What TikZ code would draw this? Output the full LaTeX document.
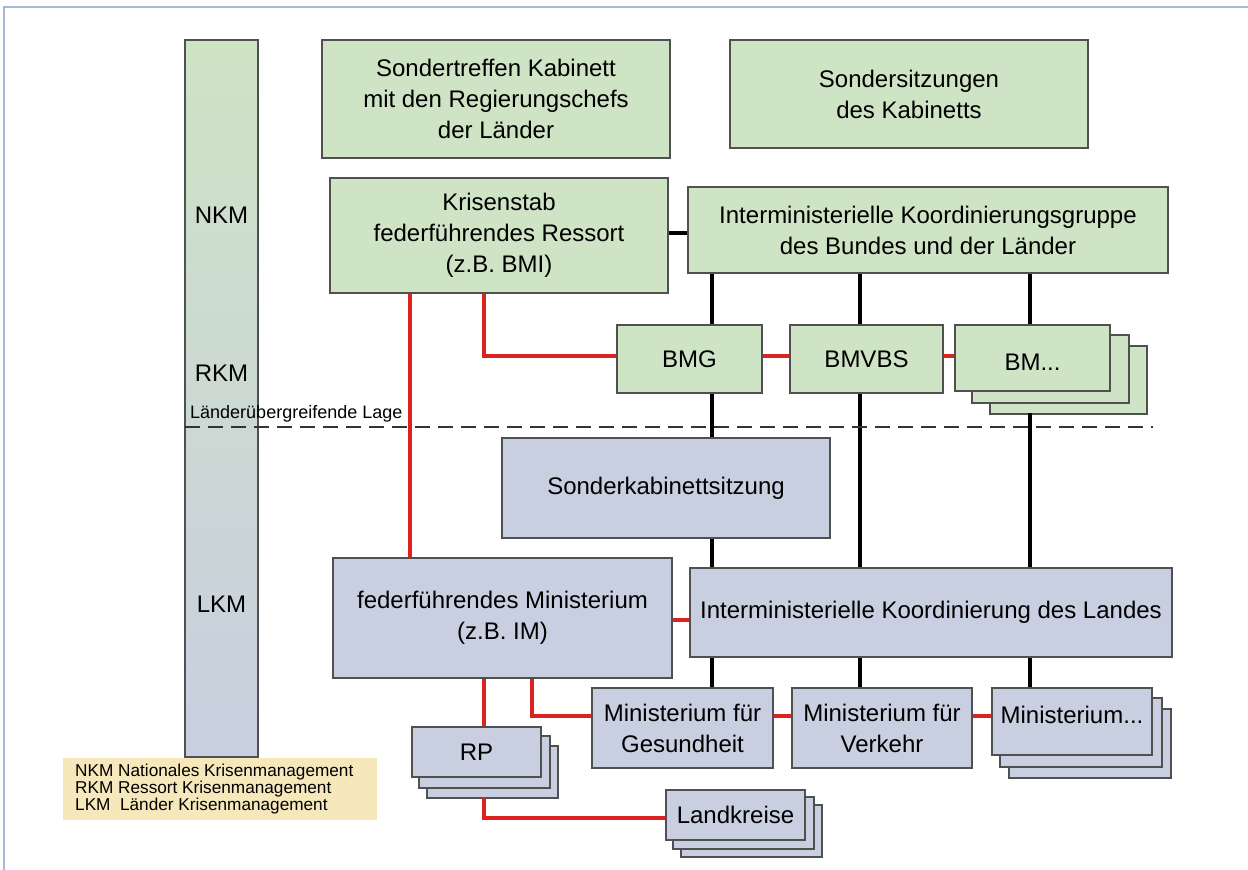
\documentclass[tikz,border=0pt]{standalone}
\usepackage{fontspec}
\setmainfont{Liberation Sans}
\usetikzlibrary{calc,backgrounds}
\definecolor{gfill}{HTML}{CFE3C5}
\definecolor{bfill}{HTML}{C8CFE0}
\definecolor{bord}{HTML}{505050}
\definecolor{redl}{HTML}{DD2222}
\definecolor{legf}{HTML}{F7E8BB}
\definecolor{framec}{HTML}{A8B8D8}
\tikzset{
  box/.style={draw=bord, line width=1.8pt, align=center, inner sep=2pt,
    font=\fontsize{24}{31}\selectfont},
  gbox/.style={box, fill=gfill},
  bbox/.style={box, fill=bfill},
  redc/.style={draw=redl, line width=3.4pt},
  blkc/.style={draw=black, line width=3.4pt},
  lbl/.style={font=\fontsize{24}{28}\selectfont, inner sep=0pt}
}
\newcommand\stackback[4]{% name, fill, dx, dy
  \begin{pgfonlayer}{background}
  \draw[draw=bord, line width=1.8pt, fill=#2] ($(#1.north west)+(2*#3,2*#4)$) rectangle ($(#1.south east)+(2*#3,2*#4)$);
  \draw[draw=bord, line width=1.8pt, fill=#2] ($(#1.north west)+(#3,#4)$) rectangle ($(#1.south east)+(#3,#4)$);
  \end{pgfonlayer}}
\begin{document}
\begin{tikzpicture}[x=1pt,y=-1pt]
\useasboundingbox (0,0) rectangle (1248,870);
\draw[framec, line width=1.8pt] (4,870) -- (4,7) -- (1248,7);

% level bar
\node[draw=bord, line width=1.8pt, top color=gfill, bottom color=bfill, minimum width=73pt, minimum height=717pt, inner sep=0pt] (bar) at (221.5,398.5) {};
\node[lbl] (nkm) at (221.5,215) {NKM};
\node[lbl] (rkm) at (221.5,373) {RKM};
\node[lbl] (lkm) at (221.5,604) {LKM};

% green boxes
\node[gbox, minimum width=348pt, minimum height=118pt] (s1) at (496,99) {Sondertreffen Kabinett\\mit den Regierungschefs\\der Länder};
\node[gbox, minimum width=358pt, minimum height=108pt] (s2) at (909,94) {Sondersitzungen\\des Kabinetts};
\node[gbox, minimum width=338pt, minimum height=115pt] (ks) at (499,235.5) {Krisenstab\\federführendes Ressort\\(z.B. BMI)};
\node[gbox, minimum width=480pt, minimum height=86pt] (ikg) at (928,230) {Interministerielle Koordinierungsgruppe\\des Bundes und der Länder};
\node[gbox, minimum width=145pt, minimum height=68pt] (bmg) at (689.5,359) {BMG};
\node[gbox, minimum width=153pt, minimum height=68pt] (bmvbs) at (866.5,359) {BMVBS};
\node[gbox, minimum width=155pt, minimum height=66pt] (bmx) at (1032.5,358) {};
\node[lbl] (bmxt) at (1032.5,362) {BM...};
\stackback{bmx}{gfill}{18}{11}

% blue boxes
\node[bbox, minimum width=328pt, minimum height=100pt] (sk) at (666,488) {Sonderkabinettsitzung};
\node[bbox, minimum width=339pt, minimum height=120pt] (fm) at (502.5,618) {federführendes Ministerium\\(z.B. IM)};
\node[bbox, minimum width=482pt, minimum height=89pt, inner sep=0pt] (ikl) at (931,612.5) {Interministerielle Koordinierung des Landes};
\node[bbox, minimum width=181pt, minimum height=80pt, inner sep=0pt] (mfg) at (682.5,728) {Ministerium für\\Gesundheit};
\node[bbox, minimum width=180pt, minimum height=80pt, inner sep=0pt] (mfv) at (882,728) {Ministerium für\\Verkehr};
\node[bbox, minimum width=160pt, minimum height=67pt, inner sep=0pt] (mx) at (1072,721.5) {};
\node[lbl] (mxt) at (1072,715) {Ministerium...};
\stackback{mx}{bfill}{9}{11}
\node[bbox, minimum width=129pt, minimum height=50pt] (rp) at (476.5,752) {RP};
\stackback{rp}{bfill}{8}{10}
\node[bbox, minimum width=139pt, minimum height=50pt] (lk) at (735.5,815) {Landkreise};
\stackback{lk}{bfill}{8}{8}

% dashed separator
\coordinate (dL) at (185,427);
\coordinate (dR) at (1153,427);
\draw[black!80, line width=2.8pt, dash pattern=on 15pt off 8pt] (dL) -- (dR);
\node[font=\fontsize{18}{20}\selectfont, anchor=base west, inner sep=0pt] (lage) at (190,418) {Länderübergreifende Lage};

% legend
\node[fill=legf, minimum width=314pt, minimum height=62pt, inner sep=0pt] (leg) at (220,789) {};
\node[font=\fontsize{17.2}{17}\selectfont, align=left, anchor=west, inner sep=0pt] (legt) at (75,789) {NKM Nationales Krisenmanagement\\RKM Ressort Krisenmanagement\\LKM\ \ Länder Krisenmanagement};

% connectors
\begin{pgfonlayer}{background}
\draw[blkc] (ks.east |- 0,233) -- (ikg.west |- 0,233);
\foreach \xx in {712,860,1030}{
  \draw[blkc] (\xx,0 |- ikg.south) -- (\xx,0 |- bmg.north);
  \draw[blkc] (\xx,0 |- ikl.south) -- (\xx,0 |- mfg.north);
}
\draw[blkc] (712,0 |- bmg.south) -- (712,0 |- sk.north);
\draw[blkc] (712,0 |- sk.south) -- (712,0 |- ikl.north);
\draw[blkc] (860,0 |- bmvbs.south) -- (860,0 |- ikl.north);
\draw[blkc] (1030,413) -- (1030,0 |- ikl.north);

\draw[redc] (410,0 |- ks.south) -- (410,0 |- fm.north);
\draw[redc] (484,0 |- ks.south) -- (484,356) -- (bmg.west |- 0,356);
\draw[redc] (bmg.east |- 0,356) -- (bmvbs.west |- 0,356);
\draw[redc] (bmvbs.east |- 0,356) -- (bmx.west |- 0,356);
\draw[redc] (fm.east |- 0,620) -- (ikl.west |- 0,620);
\draw[redc] (484,0 |- fm.south) -- (rp.north -| 484,0);
\draw[redc] (532,0 |- fm.south) -- (532,716) -- (mfg.west |- 0,716);
\draw[redc] (mfg.east |- 0,716) -- (mfv.west |- 0,716);
\draw[redc] (mfv.east |- 0,716) -- (mx.west |- 0,716);
\draw[redc] (484,797) -- (484,818) -- (lk.west |- 0,818);
\end{pgfonlayer}
\end{tikzpicture}
\end{document}
